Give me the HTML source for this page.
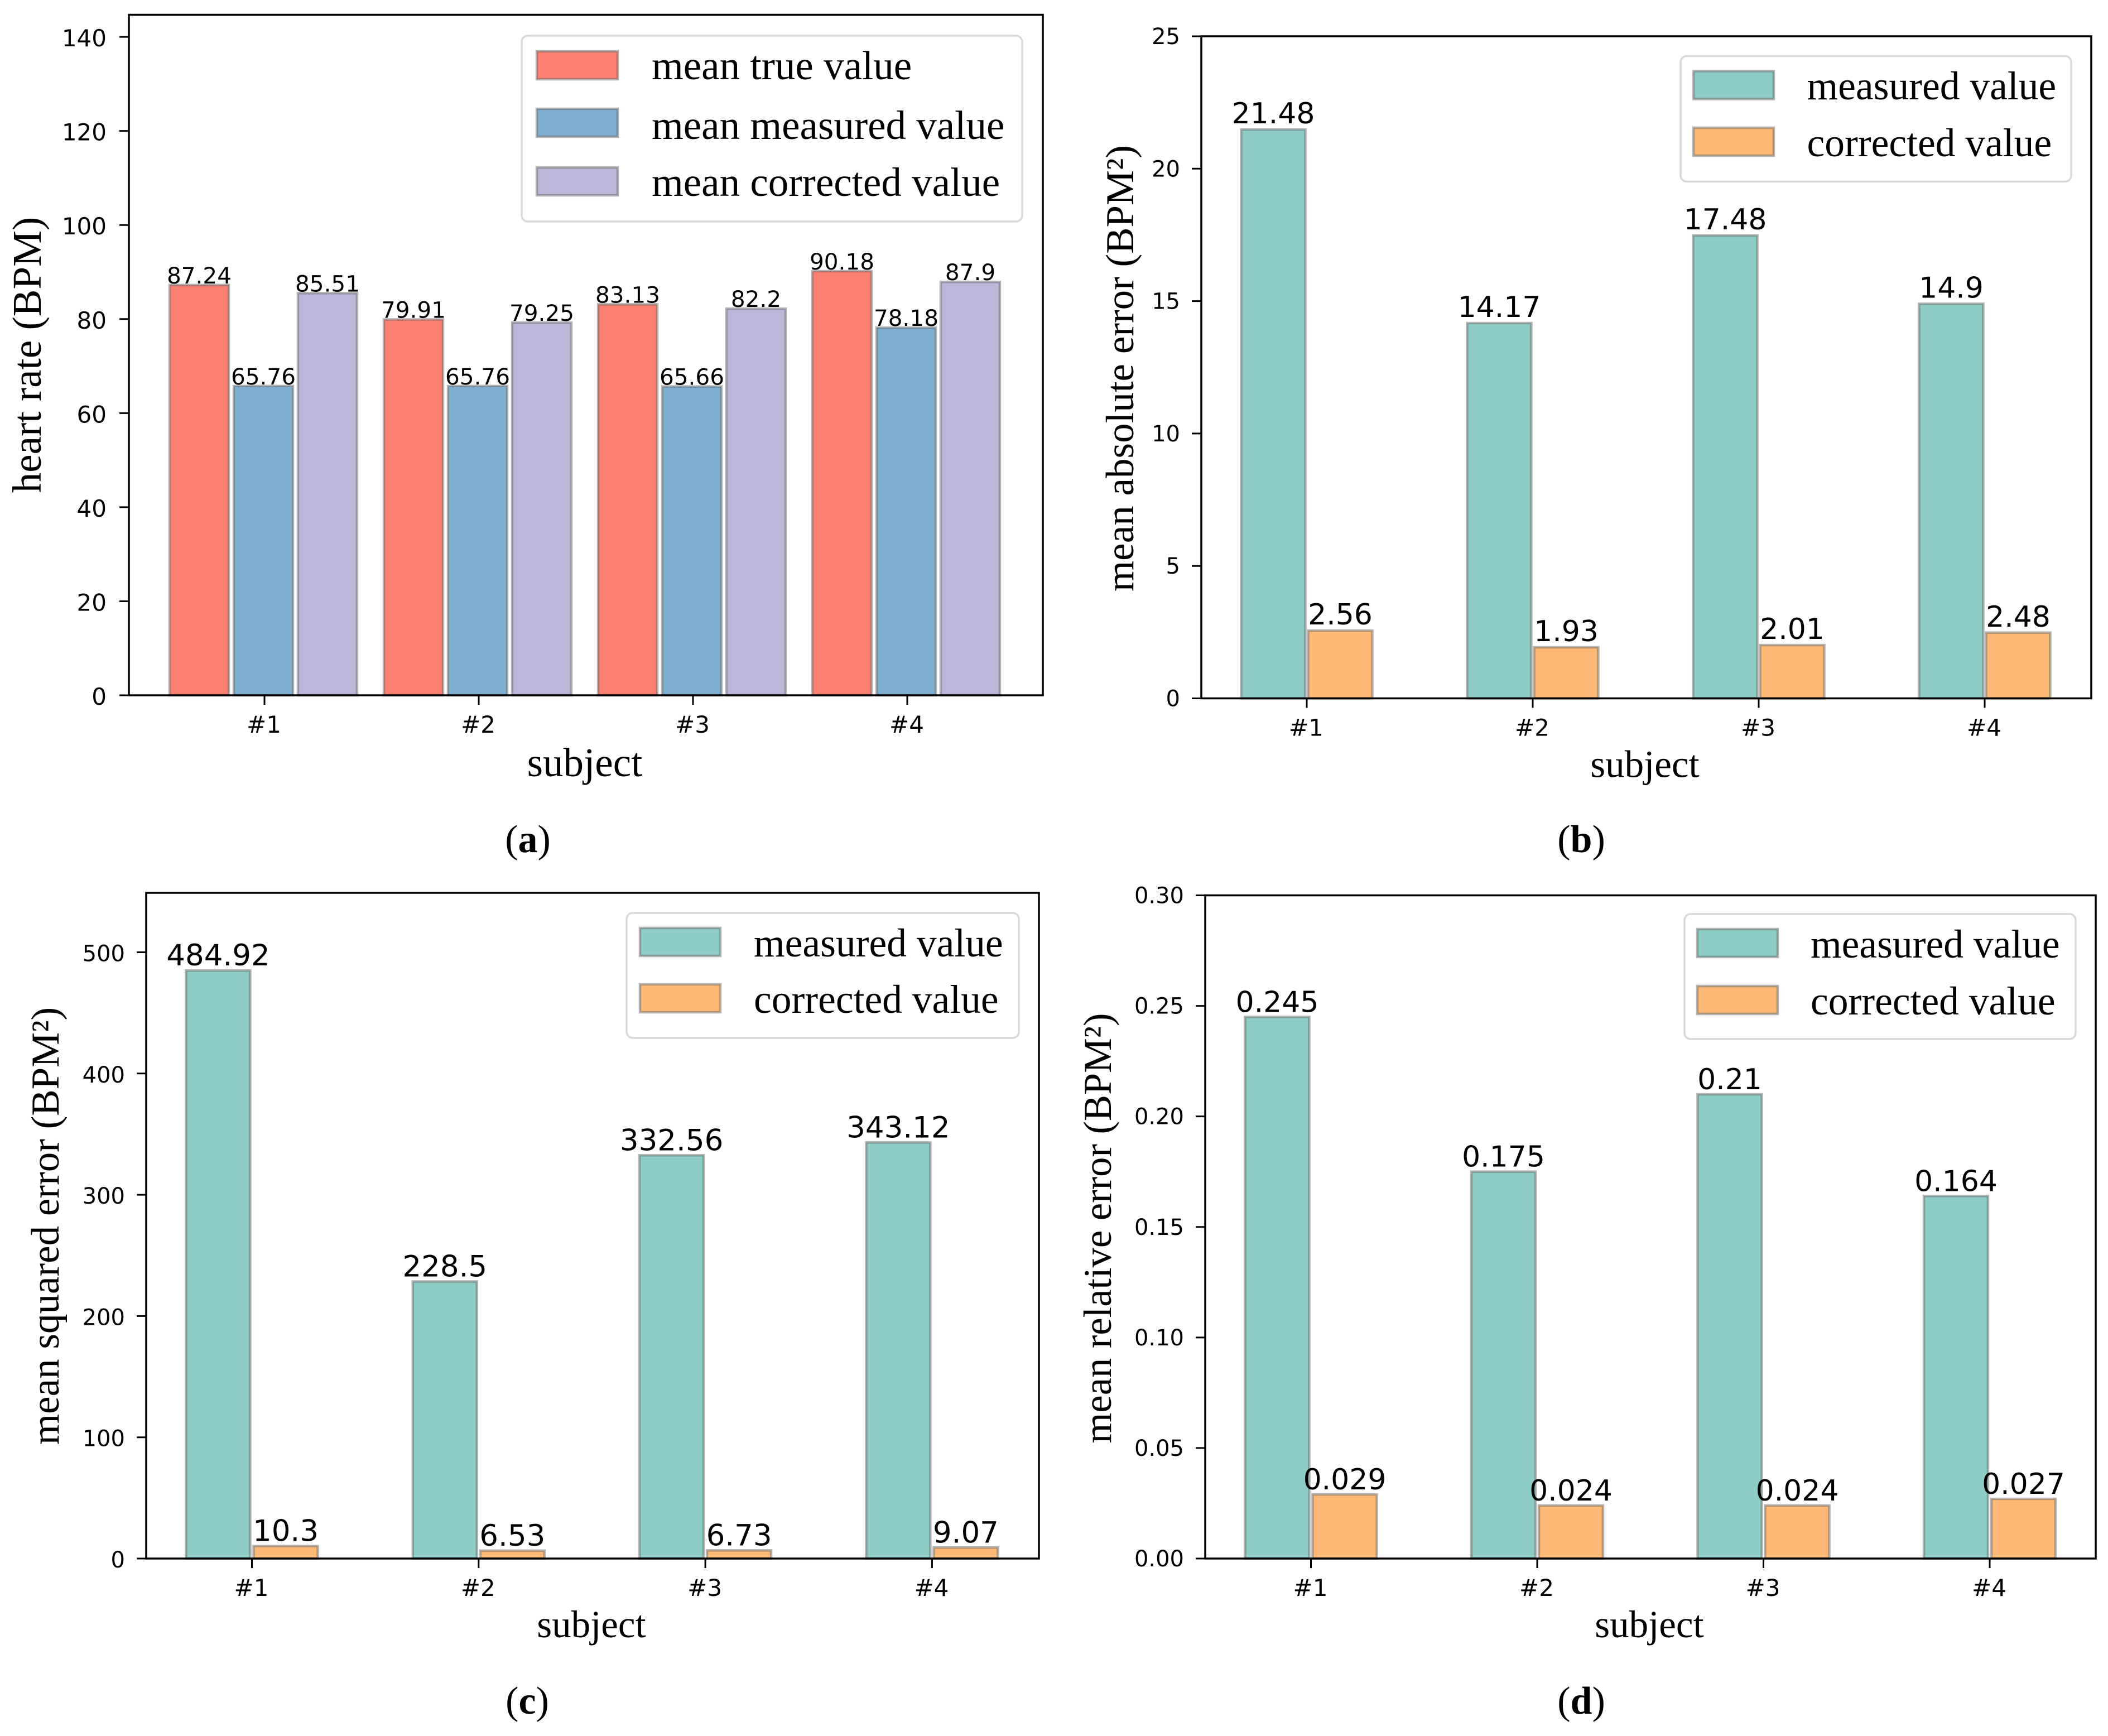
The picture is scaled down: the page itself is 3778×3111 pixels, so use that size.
<!DOCTYPE html>
<html lang="en">
<head>
<meta charset="utf-8">
<title>Heart rate measurement results by subject</title>
<style>
html,body{margin:0;padding:0;background:#fff;}
svg{display:block;}
</style>
</head>
<body>
<svg id="figure" xmlns="http://www.w3.org/2000/svg" width="3778" height="3111" viewBox="0 0 3778 3111"></svg>
<script>
const subjects = ['#1', '#2', '#3', '#4'];

const aTrue = [87.24, 79.91, 83.13, 90.18];
const aMeasured = [65.76, 65.76, 65.66, 78.18];
const aCorrected = [85.51, 79.25, 82.2, 87.9];
const aTicks = ['0', '20', '40', '60', '80', '100', '120', '140'];

const bMeasured = [21.48, 14.17, 17.48, 14.9];
const bCorrected = [2.56, 1.93, 2.01, 2.48];
const bTicks = ['0', '5', '10', '15', '20', '25'];

const cMeasured = [484.92, 228.5, 332.56, 343.12];
const cCorrected = [10.3, 6.53, 6.73, 9.07];
const cTicks = ['0', '100', '200', '300', '400', '500'];

const dMeasured = [0.245, 0.175, 0.21, 0.164];
const dCorrected = [0.029, 0.024, 0.024, 0.027];
const dTicks = ['0.00', '0.05', '0.10', '0.15', '0.20', '0.25', '0.30'];

const RED = '#fb8072', BLUE = '#80aed1', PURPLE = '#bcb6d9', TEAL = '#8dcdc6', ORANGE = '#fdb975';
const SERIF = '"Liberation Serif", serif';
const SANS = '"DejaVu Sans", sans-serif';
const svg = document.getElementById('figure');

function mk(parent, tag, attrs, txt) {
  const el = document.createElementNS('http://www.w3.org/2000/svg', tag);
  for (const k in attrs) el.setAttribute(k, attrs[k]);
  if (txt !== undefined) el.textContent = txt;
  parent.appendChild(el);
  return el;
}

function drawPanel(p) {
  const g = mk(svg, 'g', {});
  
  

  const yOf = v => p.bottom - (v / p.ymax) * (p.bottom - p.top);
  const xOf = i => p.x0 + i * p.step;

  p.series.forEach((s) => {
    s.values.forEach((v, i) => {
      const cx = xOf(i) + s.offset;
      const top = yOf(v);
      const bar = mk(g, 'rect', {
        x: cx - p.barW / 2, y: top, width: p.barW, height: p.bottom - top,
        fill: s.color, stroke: 'rgba(105,105,105,0.5)', 'stroke-width': 4.5
      });
      
      
      const lab = mk(g, 'text', {
        x: cx, y: top - p.valueGap, 'text-anchor': 'middle',
        'font-family': SANS, 'font-size': p.valueSize, fill: '#000'
      }, String(v));
      
      
    });
  });

  const frame = mk(g, 'rect', {
    x: p.left, y: p.top, width: p.right - p.left, height: p.bottom - p.top,
    fill: 'none', stroke: '#000', 'stroke-width': 3.5
  });
  
  

  p.ticks.forEach((t) => {
    const y = yOf(parseFloat(t));
    const tick = mk(g, 'line', {
      x1: p.left - 17, x2: p.left, y1: y, y2: y, stroke: '#000', 'stroke-width': 3
    });
    
    
    const lab = mk(g, 'text', {
      x: p.left - p.tickGap, y: y + p.tickDy, 'text-anchor': 'end',
      'font-family': SANS, 'font-size': p.tickSize, fill: '#000'
    }, t);
    
    
  });

  subjects.forEach((name, i) => {
    const x = xOf(i);
    const tick = mk(g, 'line', {
      x1: x, x2: x, y1: p.bottom, y2: p.bottom + 17, stroke: '#000', 'stroke-width': 3
    });
    
    
    const lab = mk(g, 'text', {
      x: x - 1, y: p.bottom + 67, 'text-anchor': 'middle',
      'font-family': SANS, 'font-size': 42, fill: '#000'
    }, name);
    
    
  });

  const xl = mk(g, 'text', {
    x: p.xLabelX, y: p.bottom + p.xLabelDy, 'text-anchor': 'middle',
    'font-family': SERIF, 'font-size': p.xLabelSize, fill: '#000'
  }, 'subject');
  
  

  const yl = mk(g, 'text', {
    transform: 'translate(' + p.yLabelX + ',' + p.yLabelY + ') rotate(-90)',
    'text-anchor': 'middle', 'font-family': SERIF, 'font-size': p.yLabelSize, fill: '#000'
  }, p.yLabel);
  
  

  const lg = mk(g, 'g', {});
  
  
  const L = p.legend;
  const box = mk(lg, 'rect', {
    x: L.x, y: L.y, width: L.w, height: L.h, rx: 11, ry: 11,
    fill: '#fff', stroke: '#d9d9d9', 'stroke-width': 3.5
  });
  
  
  p.series.forEach((s, i) => {
    const patch = mk(lg, 'rect', {
      x: L.px, y: L.py[i], width: L.pw, height: L.ph,
      fill: s.color, stroke: 'rgba(105,105,105,0.5)', 'stroke-width': 4.5
    });
    
    
    const t = mk(lg, 'text', {
      x: L.tx, y: L.ty[i], 'font-family': SERIF, 'font-size': L.size, fill: '#000'
    }, s.name);
    
    
  });

  const cap = mk(g, 'text', {
    x: p.capX, y: p.capY, 'text-anchor': 'middle',
    'font-family': SERIF, 'font-size': 70, fill: '#000'
  });
  
  
  mk(cap, 'tspan', {}, '(');
  mk(cap, 'tspan', { 'font-weight': 'bold' }, p.id);
  mk(cap, 'tspan', {}, ')');
}

drawPanel({
  id: 'a', left: 231, right: 1869, top: 26.5, bottom: 1246, ymax: 144.7,
  x0: 474, step: 384, barW: 106, valueSize: 40.5, valueGap: 3, tickDy: 17, tickSize: 42, tickGap: 40, ticks: aTicks,
  series: [
    { key: 'true', name: 'mean true value', values: aTrue, color: RED, offset: -117 },
    { key: 'measured', name: 'mean measured value', values: aMeasured, color: BLUE, offset: -2 },
    { key: 'corrected', name: 'mean corrected value', values: aCorrected, color: PURPLE, offset: 113 }
  ],
  xLabelX: 1048, xLabelDy: 145, xLabelSize: 73,
  yLabel: 'heart rate (BPM)', yLabelX: 73, yLabelY: 636, yLabelSize: 73,
  legend: { size: 73, x: 935, y: 64, w: 897, h: 333, px: 962, pw: 145, ph: 50, py: [92, 195, 300], tx: 1168, ty: [142, 249, 351] },
  capX: 946, capY: 1527
});

drawPanel({
  id: 'b', left: 2153, right: 3748, top: 65, bottom: 1251.5, ymax: 25,
  x0: 2342, step: 405, barW: 115, valueSize: 52, valueGap: 11, tickDy: 14, tickSize: 40, tickGap: 38, ticks: bTicks,
  series: [
    { key: 'measured', name: 'measured value', values: bMeasured, color: TEAL, offset: -60 },
    { key: 'corrected', name: 'corrected value', values: bCorrected, color: ORANGE, offset: 60 }
  ],
  xLabelX: 2948, xLabelDy: 141, xLabelSize: 69,
  yLabel: 'mean absolute error (BPM²)', yLabelX: 2031, yLabelY: 660, yLabelSize: 71,
  legend: { size: 71.5, x: 3012, y: 100.5, w: 700, h: 225, px: 3035, pw: 144, ph: 50, py: [127.5, 229], tx: 3238.5, ty: [178, 280] },
  capX: 2834, capY: 1527
});

drawPanel({
  id: 'c', left: 262, right: 1862, top: 1600, bottom: 2793, ymax: 549,
  x0: 451.5, step: 406.3, barW: 115, valueSize: 53, valueGap: 9, tickDy: 16, tickSize: 40, tickGap: 38, ticks: cTicks,
  series: [
    { key: 'measured', name: 'measured value', values: cMeasured, color: TEAL, offset: -60.5 },
    { key: 'corrected', name: 'corrected value', values: cCorrected, color: ORANGE, offset: 60.5 }
  ],
  xLabelX: 1060, xLabelDy: 141, xLabelSize: 69,
  yLabel: 'mean squared error (BPM²)', yLabelX: 105, yLabelY: 2197, yLabelSize: 71,
  legend: { size: 71.5, x: 1123, y: 1636, w: 703, h: 224, px: 1147, pw: 144, ph: 50, py: [1663, 1764], tx: 1351, ty: [1714, 1815] },
  capX: 945, capY: 3071
});

drawPanel({
  id: 'd', left: 2160, right: 3756, top: 1604.5, bottom: 2793, ymax: 0.3,
  x0: 2349.5, step: 405.5, barW: 115, valueSize: 52, valueGap: 9, tickDy: 14, tickSize: 40, tickGap: 38, ticks: dTicks,
  series: [
    { key: 'measured', name: 'measured value', values: dMeasured, color: TEAL, offset: -60.5 },
    { key: 'corrected', name: 'corrected value', values: dCorrected, color: ORANGE, offset: 60.5 }
  ],
  xLabelX: 2956, xLabelDy: 141, xLabelSize: 69,
  yLabel: 'mean relative error (BPM²)', yLabelX: 1991, yLabelY: 2201, yLabelSize: 70.5,
  legend: { size: 71.5, x: 3019, y: 1638, w: 701, h: 224, px: 3042, pw: 144, ph: 50, py: [1665, 1767], tx: 3245, ty: [1716, 1818] },
  capX: 2834, capY: 3071
});
</script>
</body>
</html>
